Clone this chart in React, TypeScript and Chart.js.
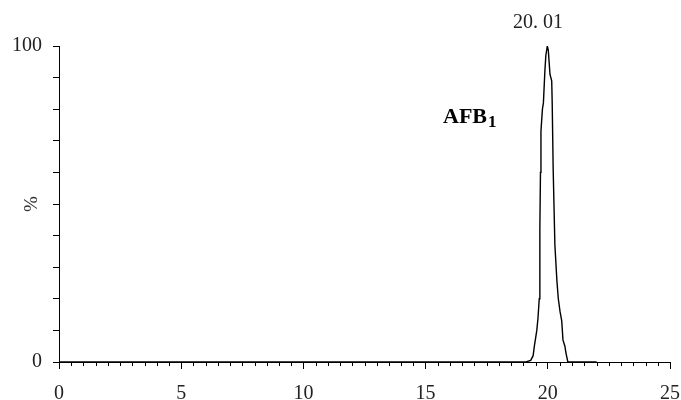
import React, { useEffect, useRef } from "react";
import { Chart, registerables } from "chart.js";

Chart.register(...registerables);

const retentionTimes = [0, 19.1, 19.3, 19.4, 19.45, 19.55, 19.6, 19.65, 19.67, 19.68, 19.7, 19.72, 19.78, 19.82, 19.88, 19.92, 19.98, 20.02, 20.09, 20.16, 20.18, 20.22, 20.29, 20.37, 20.43, 20.5, 20.57, 20.62, 20.7, 20.74, 20.82, 22];
const intensities = [0, 0, 0.5, 2, 5, 10, 14, 20, 30, 42, 60, 73, 80, 82, 92, 97, 100, 98.7, 91, 89, 82, 61, 37, 26, 20, 16, 13, 7, 5, 3, 0, 0];
const xLabeledTicks = [0, 5, 10, 15, 20, 25];
const yLabeledTicks = [0, 100];
const peakLabel = "20. 01";
const peakX = 20.01;
const peakY = 100;
const compoundName = "AFB";
const compoundSub = "1";

const FONT = "'Liberation Serif', 'DejaVu Serif', serif";

const overlayPlugin = {
  id: "overlay",
  afterDraw(chart: any) {
    const ctx = chart.ctx;
    const xs = chart.scales.x;
    const ys = chart.scales.y;
    ctx.save();
    // minor x ticks every 0.5
    ctx.strokeStyle = "#000";
    ctx.lineWidth = 1;
    const bottom = ys.getPixelForValue(0);
    for (let v = 0; v <= 25.001; v += 0.5) {
      if (Math.abs(v % 5) < 1e-6) continue;
      const px = Math.round(xs.getPixelForValue(v)) + 0.5;
      ctx.beginPath();
      ctx.moveTo(px, bottom);
      ctx.lineTo(px, bottom + 4);
      ctx.stroke();
    }
    // peak label
    ctx.fillStyle = "#222";
    ctx.font = `20px ${FONT}`;
    ctx.textAlign = "center";
    ctx.textBaseline = "alphabetic";
    ctx.fillText(peakLabel, xs.getPixelForValue(peakX) - 10, ys.getPixelForValue(peakY) - 18);
    // compound label
    ctx.fillStyle = "#000";
    ctx.font = `bold 22px ${FONT}`;
    ctx.textAlign = "left";
    const lx = 443;
    const ly = 123;
    ctx.fillText(compoundName, lx, ly);
    const w = ctx.measureText(compoundName).width;
    ctx.font = `bold 17px ${FONT}`;
    ctx.fillText(compoundSub, lx + w + 1, ly + 4);
    ctx.restore();
  },
};

export default function App() {
  const ref = useRef<HTMLCanvasElement | null>(null);
  useEffect(() => {
    if (!ref.current) return;
    const chart = new Chart(ref.current, {
      type: "scatter",
      data: {
        datasets: [
          {
            data: retentionTimes.map((x, i) => ({ x, y: intensities[i] })),
            showLine: true,
            borderColor: "#000",
            borderWidth: 1.4,
            pointRadius: 0,
            tension: 0,
          },
        ],
      },
      options: {
        animation: false,
        responsive: false,
        maintainAspectRatio: false,
        layout: { padding: { left: 0, right: 11, top: 46, bottom: 0 } },
        plugins: { legend: { display: false }, tooltip: { enabled: false } },
        scales: {
          x: {
            type: "linear",
            min: 0,
            max: 25,
            afterFit: (s: any) => { s.height = 38; s.paddingLeft = 0; s.paddingRight = 0; },
            afterBuildTicks: (s: any) => { s.ticks = xLabeledTicks.map((v) => ({ value: v })); },
            ticks: { color: "#222", font: { family: FONT, size: 20 }, padding: 13, maxRotation: 0 },
            grid: { drawOnChartArea: false, tickLength: 7, color: "#000", tickWidth: 1 },
            border: { color: "#000", width: 1 },
          },
          y: {
            min: 0,
            max: 100,
            afterFit: (s: any) => { s.width = 59; s.paddingTop = 0; s.paddingBottom = 0; },
            ticks: {
              stepSize: 10,
              color: "#222",
              font: { family: FONT, size: 20 },
              padding: 11,
              callback: (v: any) => (yLabeledTicks.includes(Number(v)) ? String(v) : ""),
            },
            grid: { drawOnChartArea: false, tickLength: 6, color: "#000" },
            border: { color: "#000", width: 1 },
            title: { display: true, text: "%", color: "#333", font: { family: FONT, size: 19 }, padding: { top: 21, bottom: 0 } },
          },
        },
      },
      plugins: [overlayPlugin],
    });
    return () => chart.destroy();
  }, []);
  return (
    <div style={{ position: "absolute", left: 0, top: 0, width: 681, height: 400, background: "#fff" }}>
      <canvas ref={ref} width={681} height={400} style={{ width: 681, height: 400 }} />
    </div>
  );
}
